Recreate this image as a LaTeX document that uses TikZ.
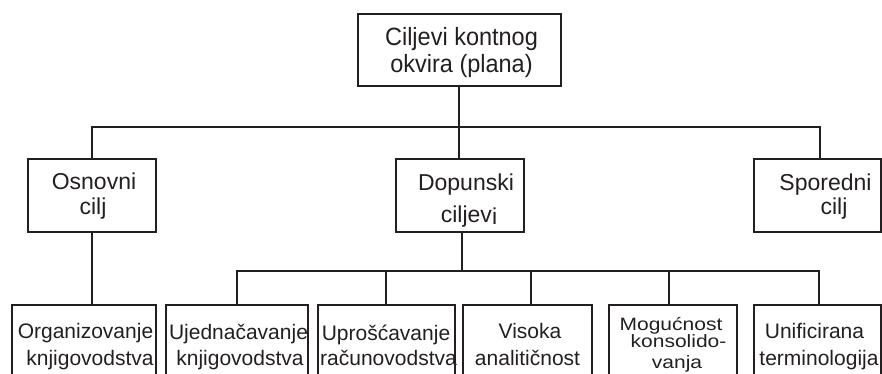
\documentclass[tikz,border=0pt]{standalone}
\usepackage{fontspec}
\setmainfont{Liberation Sans}
\usepackage{graphicx}
\definecolor{ink}{HTML}{231F20}
\begin{document}
\begin{tikzpicture}[x=1pt,y=-1pt,
  box/.style={draw=ink, line width=2pt, inner sep=0pt, outer sep=0pt},
  conn/.style={draw=ink, line width=2pt},
  tT/.style={anchor=base, inner sep=0pt, text=ink, font=\fontsize{25}{27}\selectfont},
  tM/.style={anchor=base, inner sep=0pt, text=ink, font=\fontsize{23}{25}\selectfont},
  tL/.style={anchor=base, inner sep=0pt, text=ink, font=\fontsize{21}{23}\selectfont}]
\useasboundingbox (0,0) rectangle (882,374);
\clip (0,0) rectangle (882,374);
% boxes
\node[box, minimum width=203pt, minimum height=72pt] (T) at (459.5,50) {};
\node[box, minimum width=128pt, minimum height=73pt] (O) at (92,195.5) {};
\node[box, minimum width=128pt, minimum height=73pt] (D) at (460,195.5) {};
\node[box, minimum width=127pt, minimum height=73pt] (S) at (817.5,195.5) {};
\node[box, minimum width=144pt, minimum height=100pt] (L1) at (84,355) {};
\node[box, minimum width=142pt, minimum height=100pt] (L2) at (237,355) {};
\node[box, minimum width=137pt, minimum height=100pt] (L3) at (386.5,355) {};
\node[box, minimum width=129pt, minimum height=100pt] (L4) at (527.5,355) {};
\node[box, minimum width=128pt, minimum height=100pt] (L5) at (673,355) {};
\node[box, minimum width=127pt, minimum height=100pt] (L6) at (817.5,355) {};
% connectors
\coordinate (busA) at (459,127);
\coordinate (busB) at (462,271);
\coordinate (cT) at ([xshift=-0.5pt]T.south);
\coordinate (cS) at ([xshift=2.5pt]S.north);
\coordinate (cD) at ([xshift=2pt]D.south);
\coordinate (c3) at ([xshift=-0.5pt]L3.north);
\coordinate (c4) at ([xshift=3.5pt]L4.north);
\coordinate (c5) at ([xshift=-4pt]L5.north);
\coordinate (c6) at ([xshift=1.5pt]L6.north);
\draw[conn] (cT) -- (cT |- D.north);
\draw[conn] (O.north) |- (busA) -| (cS);
\draw[conn] (O.south) -- (O.south |- L1.north);
\draw[conn] (cD) -- (busB);
\draw[conn] (L2.north) |- (busB) -| (c6);
\draw[conn] (c3) -- (c3 |- busB);
\draw[conn] (c4) -- (c4 |- busB);
\draw[conn] (c5) -- (c5 |- busB);
% texts
\node[tT] (t1) at (461.5,46) {\scalebox{0.94}[1]{Ciljevi kontnog}};
\node[tT] (t2) at (461.5,73) {\scalebox{0.94}[1]{okvira (plana)}};
\node[tM] (o1) at (94,189) {Osnovni};
\node[tM] (o2) at (93,214) {cilj};
\node[tM] (d1) at (466,190) {Dopunski};
\node[tM] (d2) at (469,222) {ciljev\raisebox{-2pt}{i}};
\node[tM] (s1) at (825.5,190) {Sporedni};
\node[tM] (s2) at (834,214) {cilj};
\node[tL] (l11) at (85.5,338) {Organizovanje};
\node[tL] (l12) at (90,365) {knjigovodstva};
\node[tL] (l21) at (238.5,339) {Ujednačavanje};
\node[tL] (l22) at (240,365) {knjigovodstva};
\node[tL] (l31) at (386,340) {Uprošćavanje};
\node[tL] (l32) at (388.5,365) {računovodstva};
\node[tL] (l41) at (530,338) {Visoka};
\node[tL] (l42) at (527.5,365) {analitičnost};
\node[tL] (l51) at (671,330) {\scalebox{1}[0.85]{Mogućnost}};
\node[tL] (l52) at (678.5,347) {\scalebox{1}[0.85]{konsolido-}};
\node[tL] (l53) at (677,368) {\scalebox{1}[0.85]{vanja}};
\node[tL] (l61) at (814.5,338) {Unificirana};
\node[tL] (l62) at (819,365) {terminologija};
\end{tikzpicture}
\end{document}
